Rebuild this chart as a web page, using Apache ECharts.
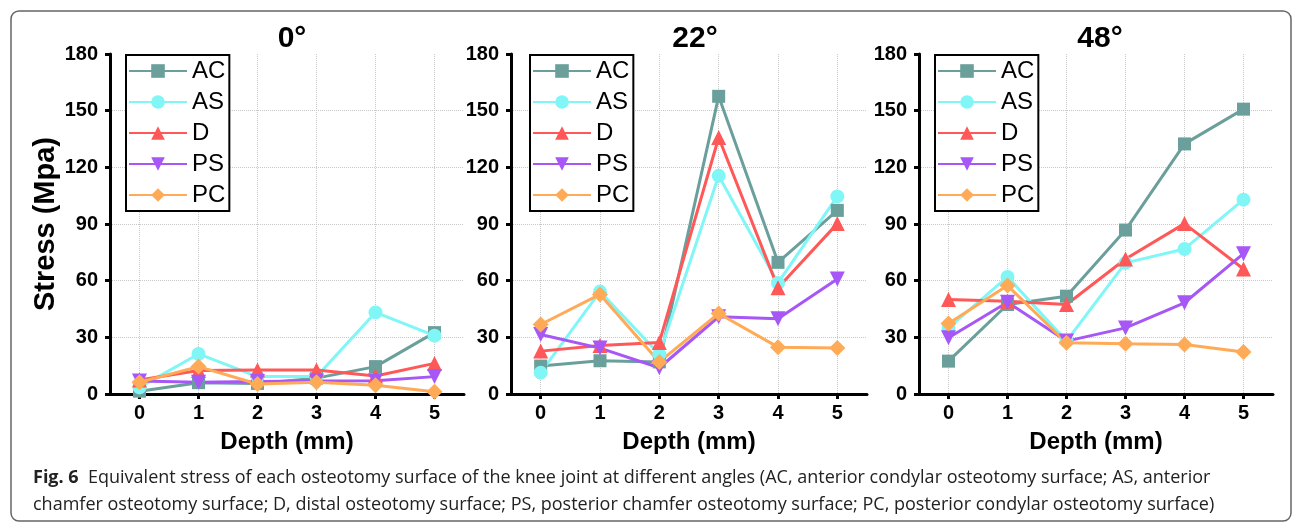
<!DOCTYPE html>
<html>
<head>
<meta charset="utf-8">
<script src="https://cdn.jsdelivr.net/npm/echarts@6/dist/echarts.min.js"></script>
<style>
html,body{margin:0;padding:0;background:#fff;}
#chart{width:1293px;height:523px;}
</style>
</head>
<body>
<div id="chart"></div>
<script>
// ---- data ----
const depths = ['0', '1', '2', '3', '4', '5'];
const seriesNames = ['AC', 'AS', 'D', 'PS', 'PC'];
const panelTitles = ['0°', '22°', '48°'];
const yTicks = [0, 30, 60, 90, 120, 150, 180];

// 0 degrees
const ac0 = [1.5, 6, 5.6, 8.4, 14.5, 32.5];
const as0 = [3.5, 21.2, 9.2, 9.2, 43.2, 30.9];
const d0  = [7.4, 12.4, 12.7, 12.7, 9.5, 16.2];
const ps0 = [6.9, 6.2, 6.6, 6.9, 7.0, 9.2];
const pc0 = [6.2, 14.5, 5.3, 6.2, 4.6, 1.2];

// 22 degrees
const ac22 = [14.8, 17.6, 17.0, 157.6, 69.7, 97.2];
const as22 = [11.3, 54.2, 21.0, 115.5, 58.8, 104.6];
const d22  = [22.7, 25.7, 27.3, 135.8, 56.2, 90.2];
const ps22 = [31.5, 24.3, 13.9, 40.9, 39.8, 60.9];
const pc22 = [36.8, 52.7, 17.0, 42.6, 24.8, 24.3];

// 48 degrees
const ac48 = [17.4, 47.4, 51.8, 86.8, 132.4, 150.8];
const as48 = [35.0, 62.0, 28.0, 69.4, 76.8, 102.9];
const d48  = [50.0, 49.1, 47.4, 71.5, 90.2, 66.2];
const ps48 = [29.8, 48.6, 28.0, 35.0, 48.3, 74.3];
const pc48 = [37.3, 57.4, 27.1, 26.6, 26.2, 22.2];

const panelData = [
  [ac0, as0, d0, ps0, pc0],
  [ac22, as22, d22, ps22, pc22],
  [ac48, as48, d48, ps48, pc48]
];

// ---- styles ----
const colors = ['#6a9f9b', '#80f6f6', '#ff5858', '#a657f6', '#ffaa57'];
const symbols = ['rect', 'circle', 'triangle', 'path://M0,0 L10,0 L5,9 Z', 'diamond'];
const symbolSizes = [13, 14, 15, 15, 16];
const FONT = 'Liberation Sans, Arial, sans-serif';

const grids = [
  {left: 110, top: 54, width: 354, height: 340},
  {left: 511, top: 54, width: 356, height: 340},
  {left: 919, top: 54, width: 354, height: 340}
];
const legendLeft = [126, 530, 935];
const titleX = [292, 695, 1100];

const xAxes = [], yAxes = [], series = [], legends = [], graphics = [];

grids.forEach((g, i) => {
  xAxes.push({
    gridIndex: i,
    type: 'category',
    data: depths,
    boundaryGap: true,
    name: 'Depth (mm)',
    nameLocation: 'middle',
    nameGap: 36,
    nameTextStyle: {fontFamily: FONT, fontSize: 24, fontWeight: 'bold', color: '#000'},
    axisLine: {lineStyle: {color: '#000', width: 3}},
    axisTick: {show: true, alignWithLabel: true, length: 5, lineStyle: {color: '#000', width: 3}},
    axisLabel: {fontFamily: FONT, fontSize: 20, fontWeight: 'bold', color: '#000', margin: 9},
    splitLine: {show: true, alignWithLabel: true, lineStyle: {color: '#c8c8c8', type: 'dotted', width: 1}}
  });
  yAxes.push({
    gridIndex: i,
    type: 'value',
    min: yTicks[0],
    max: yTicks[yTicks.length - 1],
    interval: 30,
    name: i === 0 ? 'Stress (Mpa)' : '',
    nameLocation: 'middle',
    nameGap: 50,
    nameTextStyle: {fontFamily: FONT, fontSize: 29, fontWeight: 'bold', color: '#000'},
    axisLine: {show: true, lineStyle: {color: '#000', width: 3}},
    axisTick: {show: true, length: 5, lineStyle: {color: '#000', width: 3}},
    axisLabel: {fontFamily: FONT, fontSize: 20, fontWeight: 'bold', color: '#000', margin: 12},
    splitLine: {show: true, showMaxLine: false, lineStyle: {color: '#c8c8c8', type: 'dotted', width: 1}}
  });
  panelData[i].forEach((vals, k) => {
    series.push({
      name: seriesNames[k],
      type: 'line',
      xAxisIndex: i,
      yAxisIndex: i,
      data: vals,
      symbol: symbols[k],
      symbolSize: symbolSizes[k],
      showAllSymbol: true,
      color: colors[k],
      lineStyle: {color: colors[k], width: 3},
      itemStyle: {color: colors[k]},
      emphasis: {disabled: true}
    });
  });
  legends.push({
    left: legendLeft[i],
    top: 55,
    orient: 'vertical',
    data: seriesNames,
    backgroundColor: '#fff',
    borderColor: '#000',
    borderWidth: 2,
    borderRadius: 0,
    padding: [4, 4, 4, 2],
    itemWidth: 58,
    itemHeight: 17,
    itemGap: 7,
    selectedMode: false,
    textStyle: {fontFamily: FONT, fontSize: 24, color: '#000'}
  });
  graphics.push({
    type: 'text',
    x: titleX[i],
    y: 39,
    style: {text: panelTitles[i], font: 'bold 30px ' + FONT, fill: '#000', align: 'center', verticalAlign: 'middle'}
  });
});

// outer frame
graphics.push({
  type: 'rect',
  shape: {x: 11, y: 11, width: 1280, height: 510, r: 8},
  style: {fill: 'none', stroke: '#666', lineWidth: 1.5},
  z: -10
});

const CAPFONT = '"Open Sans", "Noto Sans", sans-serif';
graphics.push({
  type: 'text',
  x: 33,
  y: 478,
  style: {
    text: '{b|Fig. 6}  Equivalent stress of each osteotomy surface of the knee joint at different angles (AC, anterior condylar osteotomy surface; AS, anterior',
    rich: {b: {font: 'bold 18px ' + CAPFONT, fill: '#222'}},
    font: '18px ' + CAPFONT,
    fill: '#222',
    verticalAlign: 'middle'
  }
});
graphics.push({
  type: 'text',
  x: 33,
  y: 505,
  style: {
    text: 'chamfer osteotomy surface; D, distal osteotomy surface; PS, posterior chamfer osteotomy surface; PC, posterior condylar osteotomy surface)',
    font: '18px ' + CAPFONT,
    fill: '#222',
    verticalAlign: 'middle'
  }
});

const chart = echarts.init(document.getElementById('chart'), null, {renderer: 'canvas'});
chart.setOption({
  animation: false,
  backgroundColor: '#fff',
  grid: grids,
  xAxis: xAxes,
  yAxis: yAxes,
  legend: legends,
  series: series,
  graphic: graphics
});
</script>
</body>
</html>
